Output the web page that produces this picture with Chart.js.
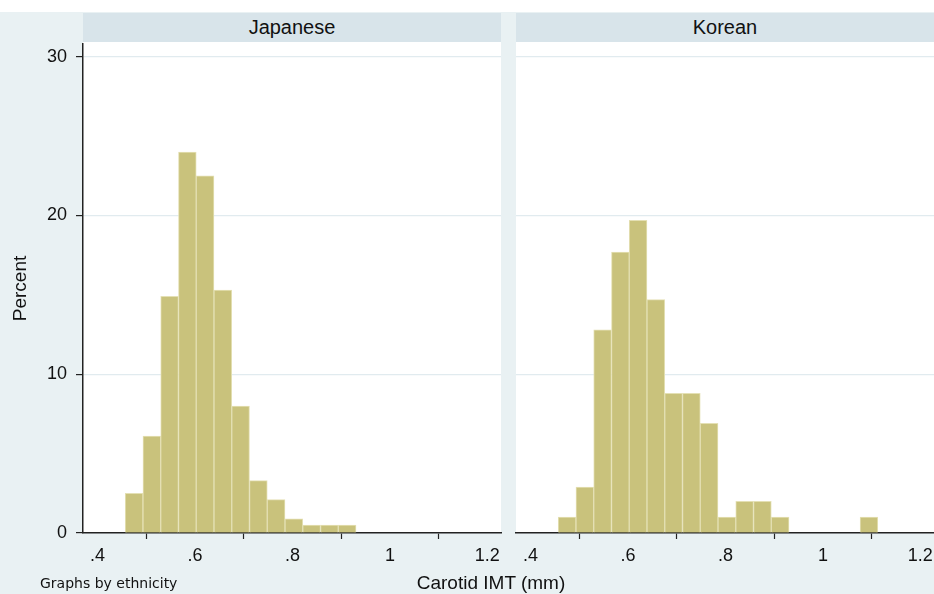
<!DOCTYPE html>
<html>
<head>
<meta charset="utf-8">
<script src="https://cdn.jsdelivr.net/npm/chart.js@4/dist/chart.umd.min.js"></script>
<style>
  body { margin: 0; background: #e9f1f3; font-family: "Liberation Sans", Arial, sans-serif; color: #111; }
  #page { position: relative; width: 934px; height: 594px; overflow: hidden; }
  #topband { position: absolute; left: 0; top: 0; width: 934px; height: 12px; background: #fff; }
  .strip { position: absolute; top: 13px; height: 29px; width: 418px; background: #d8e4ea;
           text-align: center; font-size: 20px; line-height: 29px; }
  .wrap { position: absolute; top: 0; }
  #by { position: absolute; left: 40px; top: 575px; font-family: "DejaVu Sans", sans-serif; font-size: 14px; }
  #xt { position: absolute; left: 391px; width: 200px; top: 572px; text-align: center; font-size: 19px; }
</style>
</head>
<body>
<div id="page">
  <div id="topband"></div>
  <div class="strip" style="left:83px" id="titleLeft"></div>
  <div class="strip" style="left:516px" id="titleRight"></div>
  <div class="wrap" style="left:0px"><canvas id="chartLeft" width="508" height="594"></canvas></div>
  <div class="wrap" style="left:508px"><canvas id="chartRight" width="426" height="594"></canvas></div>
  <div id="by">Graphs by ethnicity</div>
  <div id="xt">Carotid IMT (mm)</div>
</div>
<script>
const panels = ["Japanese", "Korean"];

// bin midpoints (Carotid IMT, mm)
const binsJapanese = [0.4748, 0.5113, 0.5477, 0.5842, 0.6206, 0.6571, 0.6935, 0.7300, 0.7664, 0.8029, 0.8393, 0.8758, 0.9122];
const pctJapanese = [2.5, 6.1, 14.9, 24.0, 22.5, 15.3, 8.0, 3.3, 2.1, 0.9, 0.5, 0.5, 0.5];

const binsKorean = [0.4748, 0.5113, 0.5477, 0.5842, 0.6206, 0.6571, 0.6935, 0.7300, 0.7664, 0.8029, 0.8393, 0.8758, 0.9122, 0.9487, 0.9851, 1.0216, 1.0580, 1.0945];
const pctKorean = [1.0, 2.9, 12.8, 17.7, 19.7, 14.7, 8.8, 8.8, 6.9, 1.0, 2.0, 2.0, 1.0, 0, 0, 0, 0, 1.0];

const xTicks = [0.4, 0.6, 0.8, 1, 1.2];
const yTicks = [0, 10, 20, 30];

document.getElementById("titleLeft").textContent = panels[0];
document.getElementById("titleRight").textContent = panels[1];

const plotBg = {
  id: "plotBg",
  beforeDraw(chart) {
    const a = chart.chartArea;
    chart.ctx.save();
    chart.ctx.fillStyle = "#fff";
    chart.ctx.fillRect(a.left, a.top - 2, a.right - a.left, a.bottom - a.top + 2);
    chart.ctx.restore();
  }
};

function makeChart(id, bins, pct, showY, pad) {
  return new Chart(document.getElementById(id), {
    type: "bar",
    data: {
      datasets: [{
        data: bins.map((b, i) => ({ x: b, y: pct[i] })),
        backgroundColor: "#c9c27c",
        borderColor: "#e4e0b4",
        borderWidth: 1,
        barPercentage: 1,
        categoryPercentage: 1
      }]
    },
    options: {
      responsive: false,
      animation: false,
      layout: { padding: pad },
      plugins: { legend: { display: false }, tooltip: { enabled: false } },
      scales: {
        x: {
          type: "linear",
          min: 0.37,
          max: 1.228,
          offset: false,
          afterBuildTicks: s => { s.ticks = xTicks.map(v => ({ value: v })); },
          afterFit: s => { s.height = 61; s.paddingLeft = 0; s.paddingRight = 0; },
          ticks: {
            font: { size: 18, family: "Liberation Sans" },
            color: "#111",
            padding: 6,
            maxRotation: 0,
            autoSkip: false,
            callback: v => String(v).replace(/^0\./, ".")
          },
          grid: { drawOnChartArea: false, tickLength: 6, tickColor: "#222", tickWidth: 1.2 },
          border: { color: "#222", width: 1.5 }
        },
        y: {
          min: 0,
          max: 30.8,
          afterBuildTicks: s => { s.ticks = yTicks.map(v => ({ value: v })); },
          afterFit: s => { s.width = showY ? 83 : 0; s.paddingTop = 0; s.paddingBottom = 0; },
          ticks: {
            display: showY,
            font: { size: 18, family: "Liberation Sans" },
            color: "#111",
            padding: 9
          },
          grid: { color: "#e1ebef", lineWidth: 1.2, drawTicks: showY, tickLength: 7, tickColor: "#222" },
          border: { display: showY, color: "#222", width: 1.5 },
          title: {
            display: showY,
            text: "Percent",
            font: { size: 19, family: "Liberation Sans" },
            color: "#111",
            padding: { top: 9, bottom: 0 }
          }
        }
      }
    },
    plugins: [plotBg]
  });
}

makeChart("chartLeft", binsJapanese, pctJapanese, true, { top: 44, right: 7, left: 0, bottom: 0 });
makeChart("chartRight", binsKorean, pctKorean, false, { top: 44, right: 0, left: 8, bottom: 0 });
</script>
</body>
</html>
